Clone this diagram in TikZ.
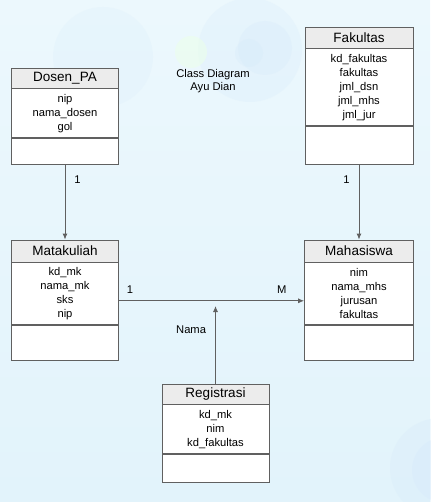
\documentclass[tikz,border=0pt]{standalone}
\usepackage{fontspec}
\setmainfont{Liberation Sans}
\usepackage{tikz}
\usetikzlibrary{positioning, arrows.meta}
\definecolor{bgtop}{RGB}{236,248,253}
\definecolor{bgbot}{RGB}{226,243,251}
\definecolor{bubble}{RGB}{214,234,250}
\definecolor{linegray}{RGB}{96,96,96}
\definecolor{headgray}{RGB}{236,236,236}
\tikzset{%
    % Parts of a class box
    classhead/.style = {draw=linegray, line width=0.8pt, rectangle, fill=headgray,
    inner sep=0pt, font=\fontsize{13.5}{15}\selectfont},
    classattr/.style = {draw=linegray, line width=0.8pt, rectangle, fill=white,
    inner sep=0pt, align=center, font=\fontsize{11.2}{14}\selectfont},
    classmeth/.style = {draw=linegray, line width=0.8pt, rectangle, fill=white,
    inner sep=0pt},
    % Connectors and their labels
    assoc/.style     = {draw=linegray, line width=0.9pt, -{Latex[length=6pt,width=5pt]}},
    mult/.style      = {font=\fontsize{11.2}{13}\selectfont, inner sep=1pt}
}
\begin{document}
\begin{tikzpicture}[x=1pt, y=-1pt]
	\useasboundingbox (0,0) rectangle (430,502);
	\shade[top color=bgtop, bottom color=bgbot] (0,0) rectangle (430,502);
	% bubbles in the background
	\fill[bubble, opacity=0.2] (103,57) circle(50);
	\fill[bubble, opacity=0.25] (250,50) circle(52);
	\fill[bubble, opacity=0.3] (265,48) circle(27);
	\fill[bubble, opacity=0.3] (249,53) circle(14);
	\fill[green!8!white, opacity=0.6] (191,52) circle(16);
	\fill[bubble, opacity=0.3] (440,468) circle(50);
	\fill[bubble, opacity=0.35] (445,470) circle(33);

	\node[font=\fontsize{11.2}{13}\selectfont, align=center] (title) at (213,81)
	{Class Diagram\\Ayu Dian};

	% Dosen_PA
	\node[classhead, minimum width=107pt, minimum height=20pt] (dosen) at (65,78) {Dosen\_PA};
	\node[classattr, minimum width=107pt, minimum height=49pt, below=0pt of dosen] (dosenattr)
	{nip\\nama\_dosen\\gol};
	\node[classmeth, minimum width=107pt, minimum height=26pt, below=0pt of dosenattr] (dosenmeth) {};

	% Fakultas
	\node[classhead, minimum width=108pt, minimum height=21pt] (fak) at (359,37.5) {Fakultas};
	\node[classattr, minimum width=108pt, minimum height=77pt, below=0pt of fak] (fakattr)
	{kd\_fakultas\\fakultas\\jml\_dsn\\jml\_mhs\\jml\_jur};
	\node[classmeth, minimum width=108pt, minimum height=38pt, below=0pt of fakattr] (fakmeth) {};

	% Matakuliah
	\node[classhead, minimum width=107pt, minimum height=22pt] (mk) at (65,251) {Matakuliah};
	\node[classattr, minimum width=107pt, minimum height=62pt, below=0pt of mk] (mkattr)
	{kd\_mk\\nama\_mk\\sks\\nip};
	\node[classmeth, minimum width=107pt, minimum height=35pt, below=0pt of mkattr] (mkmeth) {};

	% Mahasiswa
	\node[classhead, minimum width=109pt, minimum height=22pt] (mhs) at (359,251) {Mahasiswa};
	\node[classattr, minimum width=109pt, minimum height=62pt, below=0pt of mhs] (mhsattr)
	{nim\\nama\_mhs\\jurusan\\fakultas};
	\node[classmeth, minimum width=109pt, minimum height=35pt, below=0pt of mhsattr] (mhsmeth) {};

	% Registrasi
	\node[classhead, minimum width=107pt, minimum height=20pt] (reg) at (215.5,394) {Registrasi};
	\node[classattr, minimum width=107pt, minimum height=49pt, below=0pt of reg] (regattr)
	{kd\_mk\\nim\\kd\_fakultas};
	\node[classmeth, minimum width=107pt, minimum height=28pt, below=0pt of regattr] (regmeth) {};

	% associations
	\coordinate (regend) at (215.5,306);
	\draw[assoc] (dosenmeth.south) -- node[mult, pos=0.2, right=8pt] {1} (mk.north);
	\draw[assoc] (fakmeth.south) -- node[mult, pos=0.2, left=8pt] {1} (mhs.north);
	\draw[assoc] ([yshift=-7pt]mkattr.east) -- node[mult, pos=0.06, above=6pt] {1}
	node[mult, pos=0.88, above=6pt] {M} ([yshift=-7pt]mhsattr.west);
	\draw[assoc] (reg.north) -- node[mult, pos=0.7, left=8pt] {Nama} (regend);
\end{tikzpicture}
\end{document}
